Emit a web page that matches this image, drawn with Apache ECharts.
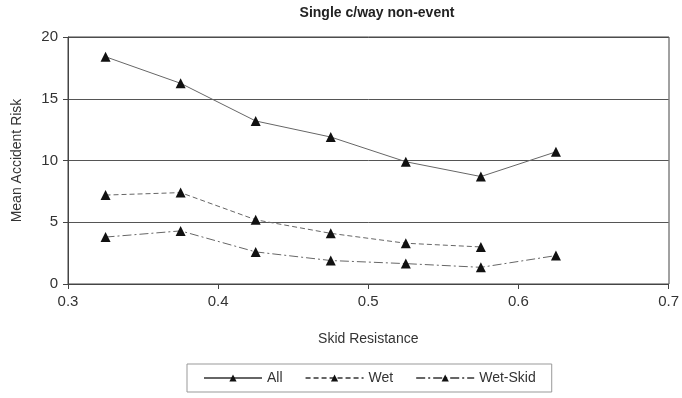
<!DOCTYPE html>
<html><head><meta charset="utf-8">
<script src="https://cdn.jsdelivr.net/npm/echarts@6/dist/echarts.min.js"></script>
<style>html,body{margin:0;padding:0;background:#fff}#c{width:682px;height:398px}</style>
</head><body><div id="c"></div>
<script>
const skid = [0.325, 0.375, 0.425, 0.475, 0.525, 0.575, 0.625];
const allRisk = [18.4, 16.25, 13.2, 11.9, 9.9, 8.7, 10.7];
const wetRisk = [7.2, 7.4, 5.2, 4.1, 3.3, 3.0, null];
const wetSkidRisk = [3.8, 4.3, 2.6, 1.9, 1.65, 1.35, 2.3];
const xTicks = [0.3, 0.4, 0.5, 0.6, 0.7];
const yTicks = [0, 5, 10, 15, 20];

const font = 'Liberation Sans, Arial, sans-serif';
function pairs(vals){ return skid.map((x,i)=>[x, vals[i]]).filter(p=>p[1]!=null); }
function mk(name, vals, type){
  return {
    name, type:'line', data: pairs(vals),
    symbol:'triangle', symbolSize:10,
    itemStyle:{color:'#111'},
    lineStyle:{color:'#666', width:1, type},
    emphasis:{disabled:true}, animation:false
  };
}
const chart = echarts.init(document.getElementById('c'));
chart.setOption({
  animation:false,
  title:{text:'Single c/way non-event', left:372, textAlign:'center', top:1,
    textStyle:{fontFamily:font, fontSize:14, fontWeight:'bold', color:'#222'}},
  grid:{left:68, right:13, top:37, bottom:114},
  xAxis:{type:'value', min:0.3, max:0.7, interval:0.1,
    name:'Skid Resistance', nameLocation:'middle', nameGap:48,
    nameTextStyle:{fontFamily:font, fontSize:14, color:'#333'},
    axisLine:{show:true, lineStyle:{color:'#444'}},
    axisTick:{show:true, length:5, lineStyle:{color:'#444'}},
    axisLabel:{fontFamily:font, fontSize:15, color:'#333', margin:10,
      formatter:v=>xTicks.includes(Math.round(v*10)/10)? (Math.round(v*10)/10).toString():''},
    splitLine:{show:false}},
  yAxis:{type:'value', min:0, max:20, interval:5,
    name:'Mean Accident Risk', nameLocation:'middle', nameGap:44,
    nameTextStyle:{fontFamily:font, fontSize:14, color:'#333'},
    axisLine:{show:true, lineStyle:{color:'#444'}},
    axisTick:{show:true, length:5, lineStyle:{color:'#444'}},
    axisLabel:{fontFamily:font, fontSize:15, color:'#333', margin:10},
    splitLine:{show:true, lineStyle:{color:'#555', width:1}}},
  legend:{bottom:6, left:187, width:365,
    borderColor:'#999', borderWidth:1, padding:[7,16,7,16],
    itemGap:22, itemWidth:58, itemHeight:9,
    textStyle:{fontFamily:font, fontSize:14, color:'#333'},
    data:['All','Wet','Wet-Skid']},
  graphic:[{type:'rect', shape:{x:68, y:37, width:601, height:247},
    style:{fill:'none', stroke:'#444', lineWidth:1}, silent:true, z:5}],
  series:[
    mk('All', allRisk, 'solid'),
    mk('Wet', wetRisk, [5,3]),
    mk('Wet-Skid', wetSkidRisk, [9,3,2,3])
  ]
});
</script></body></html>
